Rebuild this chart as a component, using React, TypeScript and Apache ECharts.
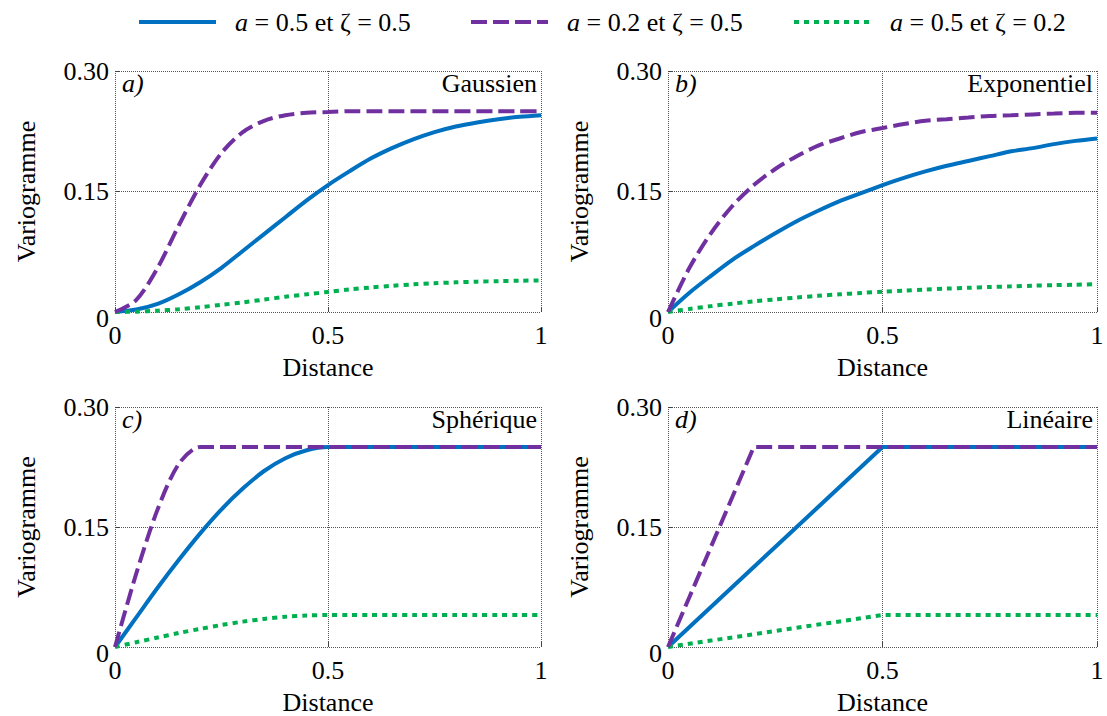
import React, { useEffect, useRef } from 'react';
import * as echarts from 'echarts';

// Distance values (x)
const DIST = [0, 0.05, 0.1, 0.15, 0.2, 0.25, 0.3, 0.35, 0.4, 0.45, 0.5, 0.55, 0.6, 0.65, 0.7, 0.75, 0.8, 0.85, 0.9, 0.95, 1];

// a) Gaussien
const GAUSS_A05_Z05 = [0, 0.003, 0.010, 0.022, 0.037, 0.055, 0.076, 0.097, 0.118, 0.139, 0.158, 0.175, 0.191, 0.204, 0.215, 0.224, 0.231, 0.236, 0.240, 0.243, 0.245];
const GAUSS_A02_Z05 = [0, 0.015, 0.055, 0.108, 0.158, 0.198, 0.224, 0.238, 0.245, 0.248, 0.249, 0.250, 0.250, 0.250, 0.250, 0.250, 0.250, 0.250, 0.250, 0.250, 0.250];
const GAUSS_A05_Z02 = [0, 0.0004, 0.0016, 0.0034, 0.006, 0.009, 0.012, 0.0155, 0.019, 0.022, 0.025, 0.028, 0.0305, 0.0326, 0.0344, 0.0358, 0.0369, 0.0378, 0.0384, 0.0389, 0.0393];

// b) Exponentiel
const EXP_A05_Z05 = [0, 0.024, 0.045, 0.065, 0.082, 0.098, 0.113, 0.126, 0.138, 0.148, 0.158, 0.167, 0.175, 0.182, 0.188, 0.194, 0.200, 0.204, 0.209, 0.213, 0.216];
const EXP_A02_Z05 = [0, 0.055, 0.098, 0.132, 0.158, 0.178, 0.194, 0.207, 0.216, 0.224, 0.229, 0.234, 0.238, 0.240, 0.242, 0.244, 0.245, 0.246, 0.247, 0.248, 0.248];
const EXP_A05_Z02 = [0, 0.0038, 0.0073, 0.0104, 0.0132, 0.0157, 0.018, 0.0201, 0.022, 0.0237, 0.0253, 0.0267, 0.028, 0.0291, 0.0301, 0.0311, 0.0319, 0.0327, 0.0334, 0.034, 0.0346];

// c) Sphérique
const SPH_A05_Z05 = [0, 0.037, 0.074, 0.109, 0.142, 0.172, 0.198, 0.220, 0.236, 0.246, 0.250, 0.250, 0.250, 0.250, 0.250, 0.250, 0.250, 0.250, 0.250, 0.250, 0.250];
const SPH_A02_Z05 = [0, 0.092, 0.172, 0.229, 0.250, 0.250, 0.250, 0.250, 0.250, 0.250, 0.250, 0.250, 0.250, 0.250, 0.250, 0.250, 0.250, 0.250, 0.250, 0.250, 0.250];
const SPH_A05_Z02 = [0, 0.006, 0.0118, 0.0175, 0.0227, 0.0275, 0.0317, 0.0351, 0.0378, 0.0394, 0.040, 0.040, 0.040, 0.040, 0.040, 0.040, 0.040, 0.040, 0.040, 0.040, 0.040];

// d) Linéaire
const LIN_A05_Z05 = [0, 0.025, 0.05, 0.075, 0.1, 0.125, 0.15, 0.175, 0.2, 0.225, 0.25, 0.25, 0.25, 0.25, 0.25, 0.25, 0.25, 0.25, 0.25, 0.25, 0.25];
const LIN_A02_Z05 = [0, 0.0625, 0.125, 0.1875, 0.25, 0.25, 0.25, 0.25, 0.25, 0.25, 0.25, 0.25, 0.25, 0.25, 0.25, 0.25, 0.25, 0.25, 0.25, 0.25, 0.25];
const LIN_A05_Z02 = [0, 0.004, 0.008, 0.012, 0.016, 0.02, 0.024, 0.028, 0.032, 0.036, 0.04, 0.04, 0.04, 0.04, 0.04, 0.04, 0.04, 0.04, 0.04, 0.04, 0.04];

const SERIES_NAMES = ['a = 0.5 et ζ = 0.5', 'a = 0.2 et ζ = 0.5', 'a = 0.5 et ζ = 0.2'];
const PANEL_TAGS = ['a)', 'b)', 'c)', 'd)'];
const MODEL_NAMES = ['Gaussien', 'Exponentiel', 'Sphérique', 'Linéaire'];
const PANEL_DATA = [
  [GAUSS_A05_Z05, GAUSS_A02_Z05, GAUSS_A05_Z02],
  [EXP_A05_Z05, EXP_A02_Z05, EXP_A05_Z02],
  [SPH_A05_Z05, SPH_A02_Z05, SPH_A05_Z02],
  [LIN_A05_Z05, LIN_A02_Z05, LIN_A05_Z02],
];
const X_TICK_LABELS = ['0', '0.5', '1'];
const Y_TICK_LABELS = ['0', '0.15', '0.30'];
const X_NAME = 'Distance';
const Y_NAME = 'Variogramme';

const FONT = "'Liberation Serif', 'Times New Roman', serif";
const FS = 26;
const COLORS = ['#0070C0', '#7030A0', '#00B050'];
const LINE_TYPES: any[] = ['solid', [16, 6], [5, 5]];
const SMOOTH = [true, true, true, false];

const GRIDS = [
  { left: 115, top: 71, width: 426, height: 241 },
  { left: 668, top: 71, width: 429, height: 241 },
  { left: 115, top: 407, width: 426, height: 241 },
  { left: 668, top: 407, width: 429, height: 241 },
];
const LEGEND_LEFT = [132, 464, 787];

export default function App() {
  const ref = useRef<HTMLDivElement>(null);
  useEffect(() => {
    if (!ref.current) return;
    const chart = echarts.init(ref.current, undefined, { renderer: 'svg' });
    const gridLine = { show: true, lineStyle: { color: '#555', type: 'dotted' as const, width: 1 } };
    const xAxis: any[] = [];
    const yAxis: any[] = [];
    const series: any[] = [];
    const graphic: any[] = [];
    GRIDS.forEach((g, p) => {
      xAxis.push({
        type: 'value', gridIndex: p, min: 0, max: 1, interval: 0.5,
        name: X_NAME, nameLocation: 'middle', nameGap: 42,
        nameTextStyle: { fontFamily: FONT, fontSize: FS, color: '#000' },
        axisLine: { show: false },
        axisTick: { show: true, inside: true, length: 5, lineStyle: { color: '#444' } },
        axisLabel: {
          fontFamily: FONT, fontSize: FS, color: '#000', margin: 10,
          formatter: (v: number) => X_TICK_LABELS[Math.round(v / 0.5)],
        },
        splitLine: gridLine,
      });
      yAxis.push({
        type: 'value', gridIndex: p, min: 0, max: 0.3, interval: 0.15,
        name: Y_NAME, nameLocation: 'middle', nameGap: 76,
        nameTextStyle: { fontFamily: FONT, fontSize: FS, color: '#000' },
        axisLine: { show: false },
        axisTick: { show: true, inside: true, length: 5, lineStyle: { color: '#444' } },
        axisLabel: {
          fontFamily: FONT, fontSize: FS, color: '#000', margin: 6,
          formatter: (v: number) => {
            const i = Math.round(v / 0.15);
            return i === 0 ? '{z|' + Y_TICK_LABELS[0] + '}' : Y_TICK_LABELS[i];
          },
          rich: { z: { fontFamily: FONT, fontSize: FS, color: '#000', padding: [12, 0, 0, 0] } },
        },
        splitLine: gridLine,
      });
      [0, 1, 2].forEach((s) => {
        series.push({
          type: 'line', name: SERIES_NAMES[s], xAxisIndex: p, yAxisIndex: p,
          data: DIST.map((d, i) => [d, PANEL_DATA[p][s][i]]),
          showSymbol: false, symbol: 'circle', symbolSize: 0,
          smooth: SMOOTH[p] ? 0.3 : false,
          z: s === 1 ? 4 : s === 2 ? 3 : 2,
          lineStyle: { color: COLORS[s], width: 4, type: LINE_TYPES[s], cap: 'butt' },
          itemStyle: { color: COLORS[s], opacity: 0 },
          emphasis: { disabled: true },
        });
      });
      graphic.push({
        type: 'text', x: g.left + 7, y: g.top + 12,
        style: { text: PANEL_TAGS[p], fontFamily: FONT, fontSize: FS, fontStyle: 'italic', fill: '#000', verticalAlign: 'middle', align: 'left' },
      });
      graphic.push({
        type: 'text', x: g.left + g.width - 4, y: g.top + 12,
        style: { text: MODEL_NAMES[p], fontFamily: FONT, fontSize: FS, fill: '#000', verticalAlign: 'middle', align: 'right' },
      });
    });
    const legend = SERIES_NAMES.map((n, i) => ({
      data: [n], left: LEGEND_LEFT[i], top: 4, itemWidth: 77, itemHeight: 2,
      selectedMode: false,
      lineStyle: { width: 4 },
      itemStyle: { opacity: 0 },
      formatter: (name: string) => '{i|a}{t|' + name.slice(1) + '}',
      textStyle: {
        fontFamily: FONT, fontSize: FS, color: '#000',
        rich: {
          i: { fontFamily: FONT, fontSize: FS, fontStyle: 'italic', color: '#000', padding: [0, 0, 0, 14] },
          t: { fontFamily: FONT, fontSize: FS, color: '#000' },
        },
      },
    }));
    chart.setOption({
      animation: false,
      backgroundColor: '#fff',
      grid: GRIDS.map((g) => ({ ...g, show: false, containLabel: false })),
      legend, xAxis, yAxis, series, graphic,
    });
    return () => chart.dispose();
  }, []);
  return <div ref={ref} style={{ position: 'fixed', left: 0, top: 0, width: 1107, height: 716 }} />;
}
